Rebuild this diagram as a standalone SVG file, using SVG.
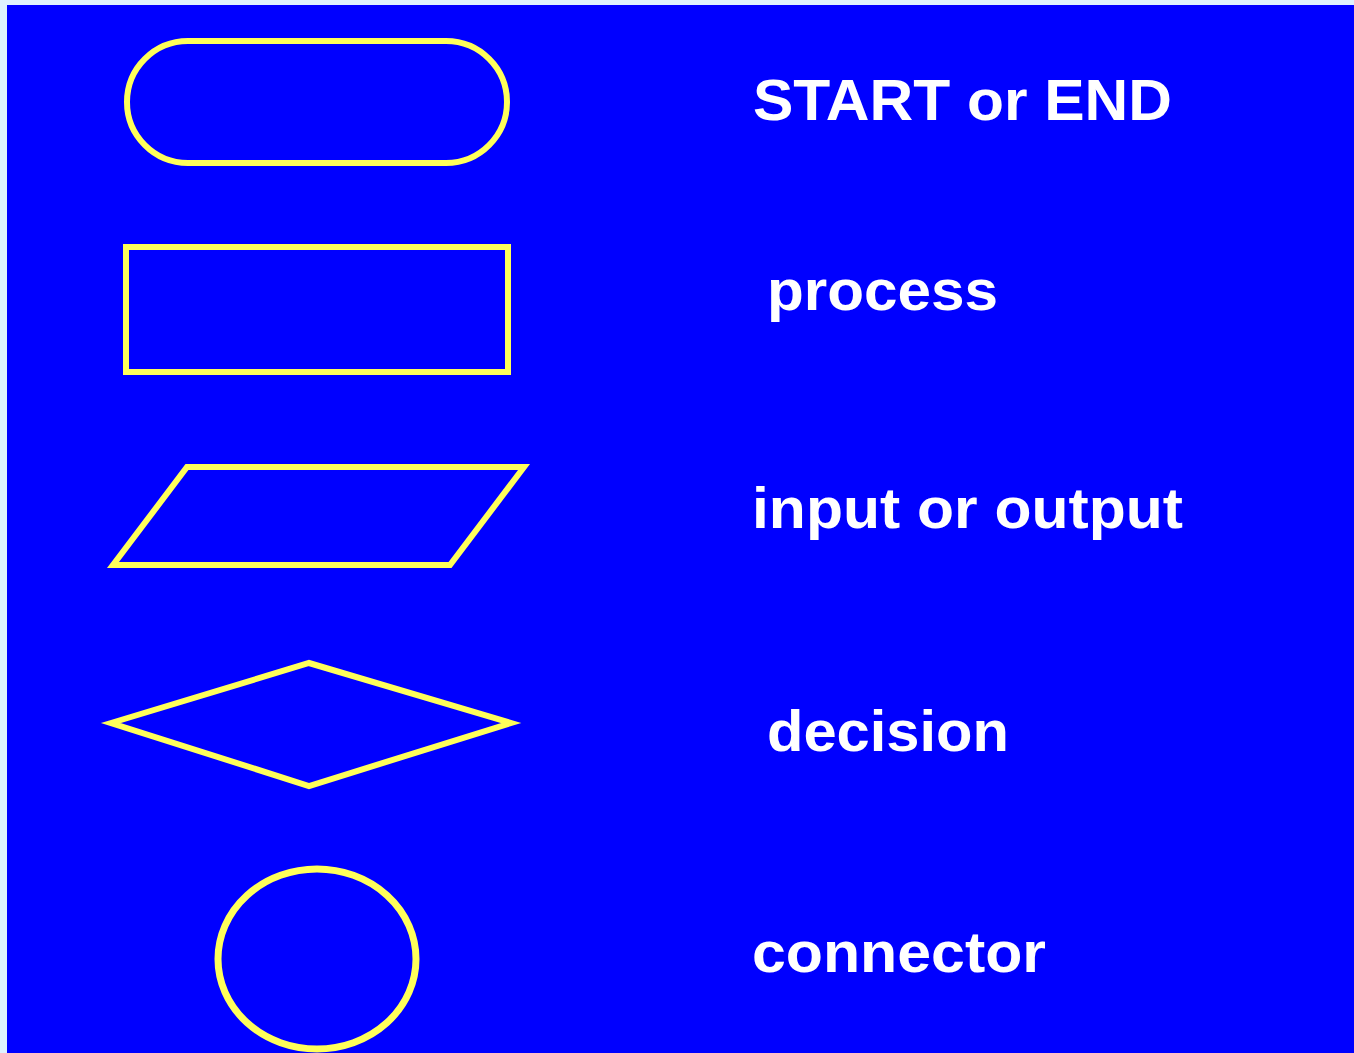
<svg xmlns="http://www.w3.org/2000/svg" width="1354" height="1053" viewBox="0 0 1354 1053">
  <style>
    .shape { fill: none; stroke: #ffff5a; stroke-width: 6; stroke-linejoin: miter; }
    .label { fill: #ffffff; font-family: "Liberation Sans", Arial, sans-serif; font-weight: bold; font-size: 57px; }
  </style>
  <!-- page edge and blue panel -->
  <rect x="0" y="0" width="1354" height="1053" fill="#dff2fe"/>
  <rect x="7" y="5" width="1347" height="1048" fill="#0000ff"/>

  <g id="terminator">
    <rect class="shape" x="127" y="41" width="380" height="122" rx="61" ry="61"/>
    <text class="label" x="753" y="120" textLength="419" lengthAdjust="spacingAndGlyphs">START or END</text>
  </g>

  <g id="process">
    <rect class="shape" x="126" y="247" width="382" height="125"/>
    <text class="label" x="767" y="310" textLength="231" lengthAdjust="spacingAndGlyphs">process</text>
  </g>

  <g id="input-output">
    <polygon class="shape" points="187,467 524,467 450,565 113,565"/>
    <text class="label" x="752" y="528" textLength="431" lengthAdjust="spacingAndGlyphs">input or output</text>
  </g>

  <g id="decision">
    <polygon class="shape" points="111,723 309,663 511,723 309,786"/>
    <text class="label" x="767" y="751" textLength="242" lengthAdjust="spacingAndGlyphs">decision</text>
  </g>

  <g id="connector">
    <ellipse class="shape" cx="317" cy="959" rx="99" ry="90" style="stroke-width:7"/>
    <text class="label" x="752" y="972" textLength="294" lengthAdjust="spacingAndGlyphs">connector</text>
  </g>

  <g id="connectors"></g>
</svg>
